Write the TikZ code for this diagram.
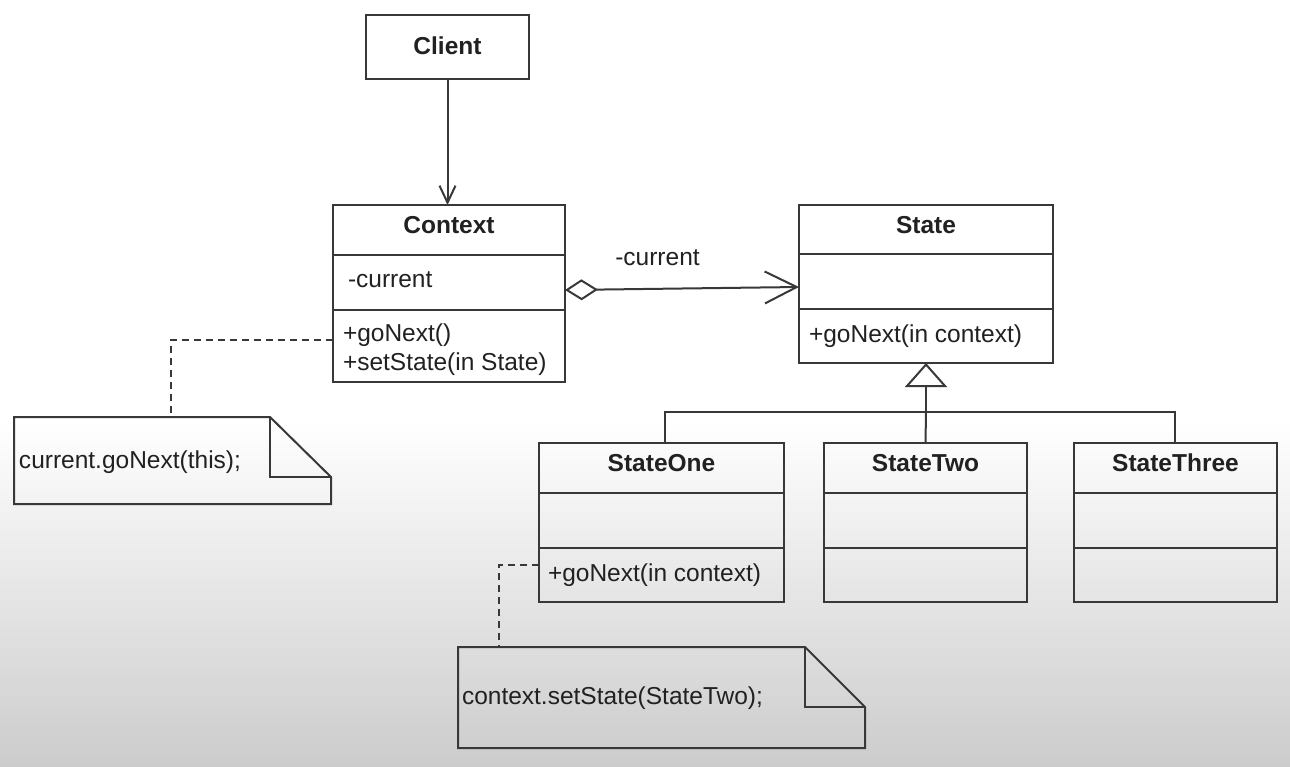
\documentclass[tikz,border=0pt]{standalone}
\usepackage{fontspec}
\setmainfont{Liberation Sans}
\usetikzlibrary{arrows.meta}
\definecolor{lc}{gray}{0.22}
\definecolor{txt}{gray}{0.13}
\definecolor{bgbot}{gray}{0.80}
\pgfdeclareverticalshading{bgsh}{100bp}{color(0bp)=(bgbot); color(25bp)=(bgbot); color(47.5bp)=(white); color(100bp)=(white)}
\tikzset{
  every node/.style={font=\fontsize{24.5}{29}\selectfont, text=txt, inner sep=0pt, outer sep=0pt},
  ln/.style={draw=lc, line width=2pt},
  dsh/.style={draw=lc, line width=2pt, dash pattern=on 7pt off 5pt},
  classbox/.style={rectangle, draw=lc, line width=2pt, inner sep=0pt},
  notebox/.style={rectangle, draw=none, inner sep=0pt},
  ttl/.style={anchor=base, font=\fontsize{24.5}{29}\selectfont\bfseries},
  lbl/.style={anchor=base west},
}
\begin{document}
\begin{tikzpicture}[x=1pt,y=-1pt]
\useasboundingbox (0,0) rectangle (1290,766);
\shade[shading=bgsh] (0,0) rectangle (1290,766);

% Client
\node[classbox, minimum width=163pt, minimum height=64pt] (client) at (447.5,47) {};
\node[ttl] (clientT) at (447.5,54) {Client};

% Context
\node[classbox, minimum width=232pt, minimum height=177pt] (ctx) at (449,293.5) {};
\draw[ln] (333,255) -- (565,255);
\draw[ln] (333,310) -- (565,310);
\node[ttl] (ctxT) at (449,233) {Context};
\node[lbl] (ctxA) at (348,287) {-current};
\node[lbl] (ctxM1) at (343,341) {+goNext()};
\node[lbl] (ctxM2) at (343,370) {+setState(in State)};

% State
\node[classbox, minimum width=254pt, minimum height=158pt] (st) at (926,284) {};
\draw[ln] (799,254) -- (1053,254);
\draw[ln] (799,309) -- (1053,309);
\node[ttl] (stT) at (926,233) {State};
\node[lbl] (stM) at (809,342) {+goNext(in context)};

% StateOne
\node[classbox, minimum width=245pt, minimum height=159pt] (s1) at (661.5,522.5) {};
\draw[ln] (539,493) -- (784,493);
\draw[ln] (539,548) -- (784,548);
\node[ttl] (s1T) at (661.5,471) {StateOne};
\node[lbl] (s1M) at (548,581) {+goNext(in context)};

% StateTwo
\node[classbox, minimum width=203pt, minimum height=159pt] (s2) at (925.5,522.5) {};
\draw[ln] (824,493) -- (1027,493);
\draw[ln] (824,548) -- (1027,548);
\node[ttl] (s2T) at (925.5,471) {StateTwo};

% StateThree
\node[classbox, minimum width=203pt, minimum height=159pt] (s3) at (1175.5,522.5) {};
\draw[ln] (1074,493) -- (1277,493);
\draw[ln] (1074,548) -- (1277,548);
\node[ttl] (s3T) at (1175.5,471) {StateThree};

% Client -> Context
\draw[ln, -{Straight Barb[length=17pt,width=16pt]}] (client.south) -- (client.south |- ctx.north);

% aggregation Context -> State
\draw[ln, {Diamond[open,length=33pt,width=21pt]}-{Straight Barb[length=32pt,width=32pt]}]
  ([yshift=3.5pt]ctx.east) -- ([yshift=-3pt]st.west);
\node[anchor=base] (curLbl) at (657.5,265) {-current};

% generalization
\coordinate (hub) at (926,412);
\coordinate (j1) at (665,412);
\coordinate (j3) at (1175,412);
\draw[ln, -{Triangle[open,length=24pt,width=42pt]}] (hub) -- (st.south);
\draw[ln] (j1 |- s1.north) -- (j1) -- (j3) -- (j3 |- s3.north);
\draw[ln] (hub) -- (s2.north);

% note 1
\node[notebox, minimum width=317pt, minimum height=87pt] (n1) at (172.5,460.5) {};
\draw[ln, line join=miter] (n1.north west) -- ([xshift=-61pt]n1.north east) -- ([yshift=-60pt]n1.north east)
  -- (n1.south east) -- (n1.south west) -- cycle;
\draw[ln] ([xshift=-61pt]n1.north east) -- ([xshift=-61pt,yshift=-60pt]n1.north east) -- ([yshift=-60pt]n1.north east);
\node[lbl] (n1T) at (19,468) {current.goNext(this);};
\draw[dsh] ([yshift=-46.5pt]ctx.west) -| ([xshift=-1.5pt]n1.north);

% note 2
\node[notebox, minimum width=407pt, minimum height=101pt] (n2) at (661.5,697.5) {};
\draw[ln, line join=miter] (n2.north west) -- ([xshift=-60pt]n2.north east) -- ([yshift=-60pt]n2.north east)
  -- (n2.south east) -- (n2.south west) -- cycle;
\draw[ln] ([xshift=-60pt]n2.north east) -- ([xshift=-60pt,yshift=-60pt]n2.north east) -- ([yshift=-60pt]n2.north east);
\node[lbl] (n2T) at (462,704) {context.setState(StateTwo);};
\draw[dsh] ([yshift=-42.5pt]s1.west) -| ([xshift=-162.5pt]n2.north);
\end{tikzpicture}
\end{document}
